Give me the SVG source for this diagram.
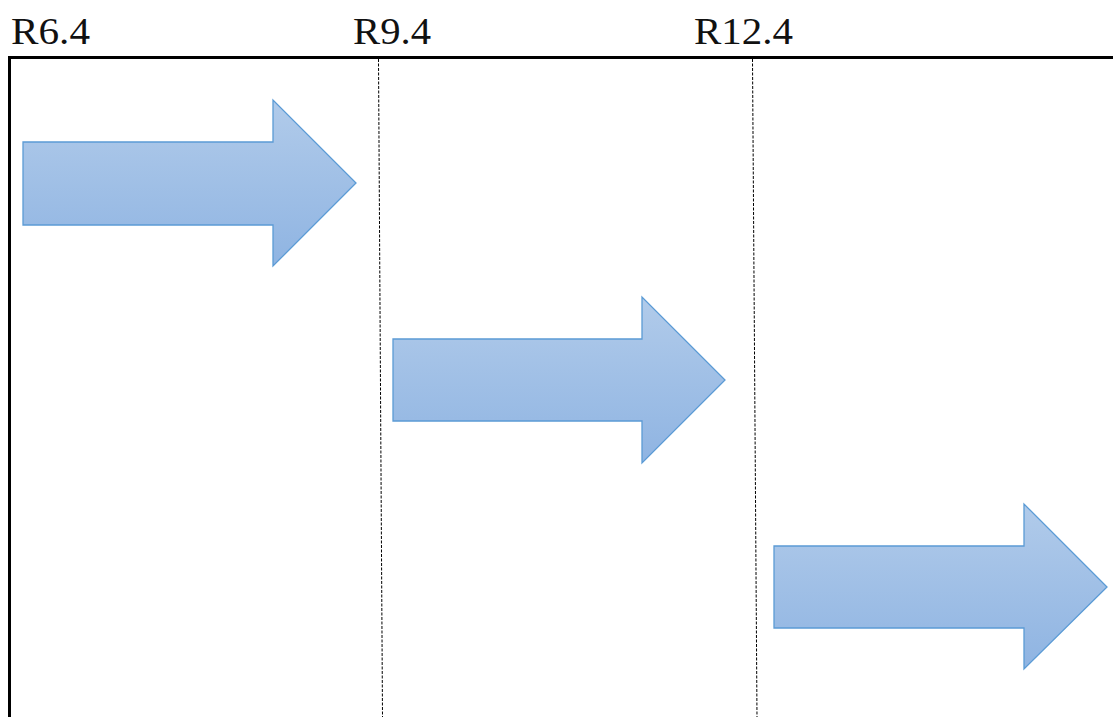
<svg xmlns="http://www.w3.org/2000/svg" width="1113" height="717" viewBox="0 0 1113 717">
<defs>
<linearGradient id="g" x1="0" y1="0" x2="0" y2="1">
<stop offset="0" stop-color="#b1cbea"/>
<stop offset="1" stop-color="#8fb4e2"/>
</linearGradient>
<style>
.lbl{font-family:"Liberation Serif","Times New Roman","Noto Serif","DejaVu Serif",serif;font-size:38px;fill:#111}
.arr{fill:url(#g);stroke:#5b9bd5;stroke-width:1.3}
.dash{stroke:#000;stroke-width:1;stroke-dasharray:3,1.5;fill:none}
</style>
</defs>
<rect width="1113" height="717" fill="#fff"/>
<g id="frame">
<path d="M9.5,717 V57.5 H1113" fill="none" stroke="#000" stroke-width="3"/>
</g>
<g id="connectors">
<line class="dash" x1="378.5" y1="59" x2="382.5" y2="717"/>
<line class="dash" x1="752.5" y1="59" x2="757" y2="717"/>
</g>
<g id="label-r64"><text class="lbl" x="11" y="44" textLength="79" lengthAdjust="spacingAndGlyphs">R6.4</text></g>
<g id="label-r94"><text class="lbl" x="353" y="44" textLength="78" lengthAdjust="spacingAndGlyphs">R9.4</text></g>
<g id="label-r124"><text class="lbl" x="694" y="44" textLength="99" lengthAdjust="spacingAndGlyphs">R12.4</text></g>
<g id="arrow1"><polygon class="arr" points="23,142 273,142 273,100 356,183 273,266 273,225 23,225"/></g>
<g id="arrow2"><polygon class="arr" points="393,339 642,339 642,297 725,380 642,463 642,421 393,421"/></g>
<g id="arrow3"><polygon class="arr" points="774,546 1024,546 1024,504 1107,587 1024,669 1024,628 774,628"/></g>
</svg>
